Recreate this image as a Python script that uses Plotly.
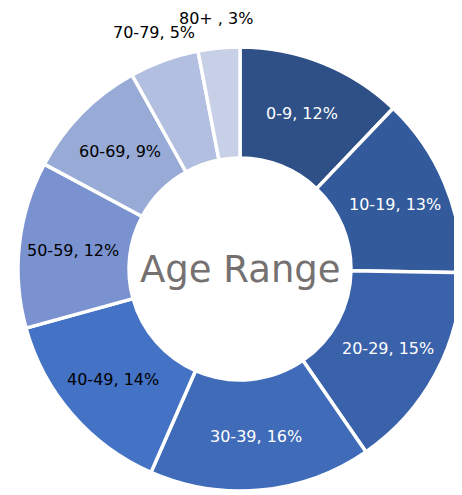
import math
import plotly.graph_objects as go

age_ranges = ["0-9", "10-19", "20-29", "30-39", "40-49", "50-59", "60-69", "70-79", "80+ "]
shares = [12, 13, 15, 16, 14, 12, 9, 5, 3]

slice_colors = ["#2E5087", "#335A9A", "#3A62AA", "#3F6BB8", "#4472C4",
                "#7A92CF", "#98AAD6", "#B3BFE0", "#C8D0E8"]
text_colors = ["white", "white", "white", "white", "black",
               "black", "black", "black", "black"]
outside = [False] * 7 + [True] * 2

FONT = "DejaVu Sans"
PLOT_PX = 444          # square plot area (px)
R_IN = 168             # label radius for inside labels (px)
R_OUT = 252            # label radius for outside labels (px)

fig = go.Figure(go.Pie(
    labels=age_ranges,
    values=shares,
    sort=False,
    direction="clockwise",
    rotation=0,
    hole=0.5,
    marker=dict(colors=slice_colors, line=dict(color="white", width=3.5)),
    textinfo="none",
    showlegend=False,
    hoverinfo="label+value",
))

# data labels placed at each slice's mid angle
annotations = []
total = sum(shares)
cum = 0
for lab, val, col, out in zip(age_ranges, shares, text_colors, outside):
    mid = (cum + val / 2) / total * 2 * math.pi
    cum += val
    r = R_OUT if out else R_IN
    annotations.append(dict(
        text=f"{lab}, {val}%",
        x=0.5 + r * math.sin(mid) / PLOT_PX,
        y=0.5 + r * math.cos(mid) / PLOT_PX,
        xref="paper", yref="paper", showarrow=False,
        xanchor="center", yanchor="middle",
        font=dict(family=FONT, size=16, color=col),
    ))

annotations.append(dict(
    text="Age Range", x=0.5, y=0.5, xref="paper", yref="paper",
    showarrow=False, xanchor="center", yanchor="middle",
    font=dict(family=FONT, size=37, color="#767171"),
))

fig.update_layout(
    width=462, height=495,
    margin=dict(l=10, r=8, t=39, b=12),
    paper_bgcolor="white",
    plot_bgcolor="white",
    annotations=annotations,
)

fig.write_html("out.html")
